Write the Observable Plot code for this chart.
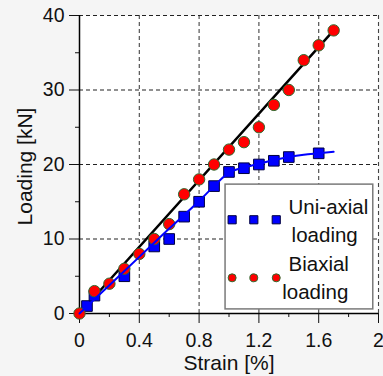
<!DOCTYPE html>
<html><head><meta charset="utf-8">
<script src="https://cdn.jsdelivr.net/npm/d3@7"></script>
<script src="https://cdn.jsdelivr.net/npm/@observablehq/plot@0.6"></script>
<style>html,body{margin:0;padding:0;background:#f5f5f5;}#chart{width:383px;height:376px;}</style>
</head><body><div id="chart"></div>
<script>
// ticks
const xTicks = [0, 0.4, 0.8, 1.2, 1.6, 2];
const xTickLabels = ["0", "0.4", "0.8", "1.2", "1.6", "2"];
const xMinorTicks = [0.2, 0.6, 1.0, 1.4, 1.8];
const yTicks = [0, 10, 20, 30, 40];
const yTickLabels = ["0", "10", "20", "30", "40"];
const yMinorTicks = [5, 15, 25, 35];
const xGrid = [0.4, 0.8, 1.2, 1.6, 2];
const yGrid = [10, 20, 30, 40];

// series: uni-axial loading (blue squares)
const uniStrain = [0.05, 0.1, 0.3, 0.5, 0.6, 0.7, 0.8, 0.9, 1.0, 1.1, 1.2, 1.3, 1.4, 1.6];
const uniLoad   = [1.0, 2.4, 5.0, 9.0, 10.0, 13.0, 15.0, 17.1, 19.0, 19.5, 20.0, 20.5, 21.0, 21.5];
// series: biaxial loading (red circles)
const biStrain = [0, 0.1, 0.2, 0.3, 0.4, 0.5, 0.6, 0.7, 0.8, 0.9, 1.0, 1.1, 1.2, 1.3, 1.4, 1.5, 1.6, 1.7];
const biLoad   = [0, 3, 4, 6, 8, 10, 12, 16, 18, 20, 22, 23, 25, 28, 30, 34, 36, 38];
// fitted curves
const uniFitStrain = [0, 0.2, 0.4, 0.6, 0.8, 0.9, 1.0, 1.1, 1.2, 1.3, 1.4, 1.5, 1.6, 1.7];
const uniFitLoad   = [0, 3.8, 7.6, 11.4, 15.1, 17.1, 18.9, 19.6, 20.1, 20.6, 21.0, 21.3, 21.5, 21.7];
const biFitStrain = [0, 1.7];
const biFitLoad   = [0, 38];

// legend
const legendNames = ["Uni-axial", "loading", "Biaxial", "loading"];
const legendBox = {x1: 0.977, x2: 1.965, y1: 0.55, y2: 17.3};
const legendSymX = [1.021, 1.166, 1.316];
const legendUniY = 12.58;
const legendBiY = 4.79;
const legendTextX = [1.665, 1.640, 1.600, 1.577];
const legendTextY = [14.3, 10.45, 6.6, 2.85];

const zip = (xs, ys) => xs.map((x, i) => ({x, y: ys[i]}));
const uni = zip(uniStrain, uniLoad);
const bi = zip(biStrain, biLoad);
const uniFit = zip(uniFitStrain, uniFitLoad);
const biFit = zip(biFitStrain, biFitLoad);
const legendText = legendNames.map((t, i) => ({t, x: legendTextX[i], y: legendTextY[i]}));
const legendUni = legendSymX.map(x => ({x, y: legendUniY}));
const legendBi = legendSymX.map(x => ({x, y: legendBiY}));

const font = "'Liberation Sans', Arial, sans-serif";
const chart = Plot.plot({
  width: 383, height: 376,
  marginLeft: 79, marginRight: 5, marginTop: 15, marginBottom: 63,
  x: {domain: [0, 2]},
  y: {domain: [0, 40]},
  style: {background: "transparent", fontFamily: font, color: "#111", overflow: "visible"},
  marks: [
    Plot.frame({fill: "white", stroke: null}),
    Plot.gridX(xGrid, {stroke: "#444", strokeOpacity: 1, strokeDasharray: "4,3", strokeWidth: 1.1}),
    Plot.gridY(yGrid, {stroke: "#222", strokeOpacity: 1, strokeDasharray: "4,3", strokeWidth: 1.1}),
    Plot.axisX(xTicks, {tickSize: 10, tickPadding: 10, fontSize: 19.5, label: null,
      tickFormat: d => xTickLabels[xTicks.indexOf(d)]}),
    Plot.axisX(xMinorTicks, {tickSize: 4, label: null, tickFormat: () => ""}),
    Plot.axisY(yTicks, {tickSize: 10, tickPadding: 5, fontSize: 19.5, label: null,
      tickFormat: d => yTickLabels[yTicks.indexOf(d)]}),
    Plot.axisY(yMinorTicks, {tickSize: 4, label: null, tickFormat: () => ""}),
    Plot.ruleX([0], {stroke: "black", strokeWidth: 1.5}),
    Plot.ruleY([0], {stroke: "black", strokeWidth: 1.5}),
    Plot.text(["Strain [%]"], {frameAnchor: "bottom", dy: 49.5, fontSize: 21, textAnchor: "middle", lineAnchor: "middle"}),
    Plot.text(["Loading [kN]"], {frameAnchor: "middle", dx: -203.5, dy: 2, rotate: -90, fontSize: 21, textAnchor: "middle", lineAnchor: "middle"}),
    Plot.line(biFit, {x: "x", y: "y", stroke: "black", strokeWidth: 2.5}),
    Plot.dot(uni, {x: "x", y: "y", symbol: "square", r: 6, fill: "#0000ff", stroke: "#000040", strokeWidth: 1}),
    Plot.dot(bi, {x: "x", y: "y", r: 5.7, fill: "#ff0000", stroke: "#2f6b2f", strokeWidth: 1}),
    Plot.line(uniFit, {x: "x", y: "y", stroke: "#0000ff", strokeWidth: 2, curve: "monotone-x"}),
    Plot.rect([legendBox], {x1: "x1", x2: "x2", y1: "y1", y2: "y2", fill: "white", stroke: "#7a7a7a", strokeWidth: 1.5}),
    Plot.dot(legendUni, {x: "x", y: "y", symbol: "square", r: 4.6, fill: "#0000ff", stroke: "#000040", strokeWidth: 1}),
    Plot.dot(legendBi, {x: "x", y: "y", r: 4, fill: "#ff0000", stroke: "#2f6b2f", strokeWidth: 1}),
    Plot.text(legendText, {x: "x", y: "y", text: "t", fontSize: 20.5, textAnchor: "middle", lineAnchor: "middle"})
  ]
});
document.getElementById("chart").appendChild(chart);
</script>
</body></html>
